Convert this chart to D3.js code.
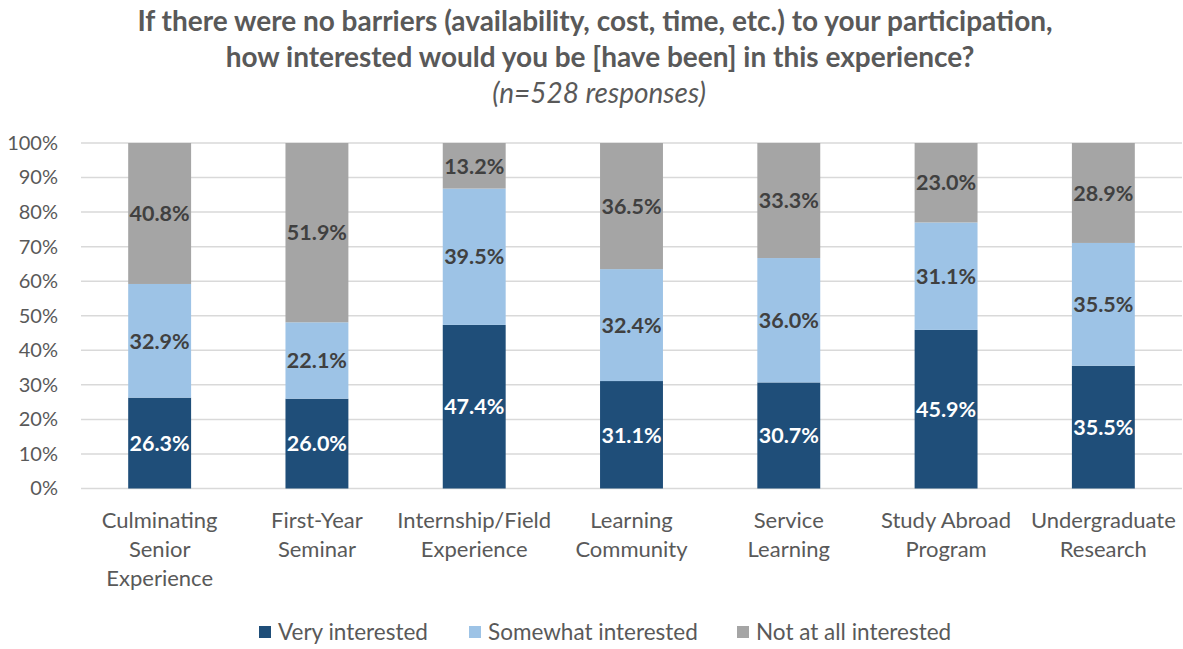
<!DOCTYPE html>
<html><head><meta charset="utf-8">
<script src="https://cdn.jsdelivr.net/npm/d3@7"></script>
<style>body{margin:0;background:#fff;} svg{display:block;font-family:Lato,"Open Sans",sans-serif;}</style>
</head><body>
<svg id="c" width="1183" height="649"></svg>
<script>
const categories = ["Culminating Senior Experience","First-Year Seminar","Internship/Field Experience","Learning Community","Service Learning","Study Abroad Program","Undergraduate Research"];
const categoryLines = [["Culminating","Senior","Experience"],["First-Year","Seminar"],["Internship/Field","Experience"],["Learning","Community"],["Service","Learning"],["Study Abroad","Program"],["Undergraduate","Research"]];
const seriesNames = ["Very interested","Somewhat interested","Not at all interested"];
const veryInterested = [26.3,26.0,47.4,31.1,30.7,45.9,35.5];
const somewhatInterested = [32.9,22.1,39.5,32.4,36.0,31.1,35.5];
const notInterested = [40.8,51.9,13.2,36.5,33.3,23.0,28.9];
const yTicks = [0,10,20,30,40,50,60,70,80,90,100];
const colors = ["#1F4E79","#9DC3E6","#A5A5A5"];
const labelColors = ["#FFFFFF","#404040","#404040"];

const svg = d3.select("#c");
const m = {left:81, right:1182, top:143, bottom:488.5};
const x = d3.scaleBand().domain(categories).range([m.left,m.right]).paddingInner(0.6).paddingOuter(0.3);
const y = d3.scaleLinear().domain([0,1]).range([m.bottom,m.top]);

const table = categories.map((c,i)=>({cat:c, "Very interested":veryInterested[i], "Somewhat interested":somewhatInterested[i], "Not at all interested":notInterested[i]}));
const stacked = d3.stack().keys(seriesNames).offset(d3.stackOffsetExpand)(table);

// gridlines
svg.append("g").selectAll("line").data(yTicks).join("line")
  .attr("x1",m.left).attr("x2",m.right)
  .attr("y1",d=>y(d/100)).attr("y2",d=>y(d/100))
  .attr("stroke","#D9D9D9").attr("stroke-width",1.5);

// y labels
const yAxis = d3.axisLeft(y).tickValues(yTicks.map(d=>d/100)).tickFormat(d=>Math.round(d*100)+"%").tickSize(0).tickPadding(23);
const ya = svg.append("g").attr("transform",`translate(${m.left},0)`).call(yAxis);
ya.select(".domain").remove();
ya.selectAll("text").attr("fill","#595959").style("font-size","20px").style("font-family","Lato,sans-serif");

// bars
const g = svg.append("g");
stacked.forEach((s,si)=>{
  g.append("g").selectAll("rect").data(s).join("rect")
    .attr("x",d=>x(d.data.cat)).attr("width",x.bandwidth())
    .attr("y",d=>y(d[1])).attr("height",d=>y(d[0])-y(d[1]))
    .attr("fill",colors[si]);
  g.append("g").selectAll("text").data(s).join("text")
    .attr("x",d=>x(d.data.cat)+x.bandwidth()/2)
    .attr("y",d=>(y(d[0])+y(d[1]))/2)
    .attr("dy","0.36em").attr("text-anchor","middle")
    .attr("fill",labelColors[si]).style("font-size","21.5px").style("font-weight","bold")
    .text(d=>d.data[seriesNames[si]].toFixed(1)+"%");
});

// x labels
const xl = svg.append("g");
categories.forEach((c,i)=>{
  const t = xl.append("text").attr("x",x(c)+x.bandwidth()/2).attr("y",528)
    .attr("text-anchor","middle").attr("fill","#595959").style("font-size","22px");
  categoryLines[i].forEach((ln,j)=>t.append("tspan").attr("x",x(c)+x.bandwidth()/2).attr("dy",j?29:0).text(ln));
});

// title
svg.append("text").attr("x",595).attr("y",31).attr("text-anchor","middle").attr("fill","#595959")
  .style("font-size","28px").style("font-weight","bold")
  .text("If there were no barriers (availability, cost, time, etc.) to your participation,");
svg.append("text").attr("x",600).attr("y",67).attr("text-anchor","middle").attr("fill","#595959")
  .style("font-size","28px").style("font-weight","bold")
  .text("how interested would you be [have been] in this experience?");
svg.append("text").attr("x",599).attr("y",103).attr("text-anchor","middle").attr("fill","#595959")
  .style("font-size","28px").style("font-style","italic")
  .text("(n=528 responses)");

// legend
const legX = [259,469,737];
const lg = svg.append("g");
seriesNames.forEach((s,i)=>{
  lg.append("rect").attr("x",legX[i]).attr("y",626).attr("width",12).attr("height",12).attr("fill",colors[i]);
  lg.append("text").attr("x",legX[i]+19).attr("y",640).attr("fill","#595959").style("font-size","22.5px").text(s);
});
</script>
</body></html>
